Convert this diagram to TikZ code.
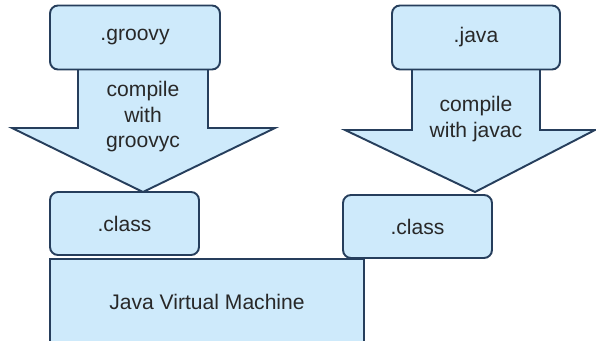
\documentclass[tikz,border=0pt]{standalone}
\usepackage{fontspec}
\setmainfont{Liberation Sans}
\usepackage{tikz}
\definecolor{boxfill}{RGB}{206,234,251}
\definecolor{boxline}{RGB}{38,62,92}
\definecolor{textgray}{RGB}{40,40,40}

\begin{document}
\begin{tikzpicture}[x=0.02cm,y=-0.02cm]
	 \tikzstyle{file}=[draw=boxline,fill=boxfill,line width=1.1pt,rounded corners=0.16cm,text=textgray,font=\fontsize{12}{14}\selectfont,inner sep=0pt,minimum height=1.28cm]
	 \tikzstyle{vm}=[file,rounded corners=0pt]
	 \tikzstyle{blockarrow}=[draw=boxline,fill=boxfill,line width=1.1pt,line join=miter]
	 \tikzstyle{step text}=[text=textgray,font=\fontsize{12}{14.5}\selectfont,align=center]

	\useasboundingbox (0,0) rectangle (596,341);
	\clip (0,0) rectangle (596,341);

	% compile arrows
	\draw[blockarrow] (78,70) -- (78,128) -- (12,128) -- (143,192) -- (275,128) -- (208,128) -- (208,70);
	\draw[blockarrow] (412,70) -- (412,130) -- (345,130) -- (475,192) -- (595,130) -- (540,130) -- (540,70);

	% source files
	\node[file,minimum width=3.4cm] (groovy) at (135,37.5)		{.groovy};
	\node[file,minimum width=3.36cm] (java) at (476,37.5)		{.java};
	\node[step text] (groovyc) at (143,117)		{compile\\with\\groovyc};
	\node[step text] (javac) at (476,119)		{compile\\with javac};

	% class files
	\node[file,minimum width=2.98cm,minimum height=1.26cm] (gclass) at (124.5,223.5)	{.class};
	\node[file,minimum width=2.98cm,minimum height=1.26cm] (jclass) at (417.5,226.5)	{.class};

	\node[vm,minimum width=6.28cm,minimum height=1.7cm] (jvm) at (207,301.5)	{Java Virtual Machine};
\end{tikzpicture}
\end{document}
